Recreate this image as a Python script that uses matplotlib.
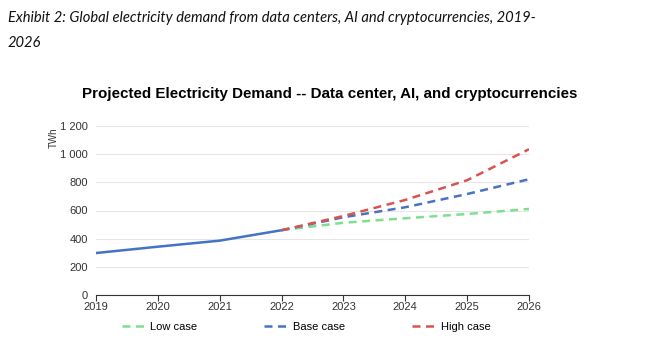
import numpy as np
import matplotlib.pyplot as plt
from matplotlib.ticker import FuncFormatter

years_hist = [2019, 2020, 2021, 2022]
hist = [298, 343, 386, 460]
years_proj = [2022, 2023, 2024, 2025, 2026]
low_case = [460, 513, 545, 575, 611]
base_case = [460, 552, 623, 717, 822]
high_case = [460, 561, 675, 815, 1035]

fig = plt.figure(figsize=(6.67, 3.48), dpi=100)
fig.text(0.012, 0.967, "Exhibit 2: Global electricity demand from data centers, AI and cryptocurrencies, 2019-",
         family="Lato", style="italic", fontsize=10.6, va="top", color="#111111")
fig.text(0.012, 0.897, "2026", family="Lato", style="italic", fontsize=10.6, va="top", color="#111111")
fig.text(0.495, 0.73, "Projected Electricity Demand -- Data center, AI, and cryptocurrencies",
         family="Liberation Sans", weight="bold", fontsize=10.9, ha="center", va="center")

ax = fig.add_axes([96/667, 1-295/348, 433/667, 169/348])
dash = (3.2, 2.2)
ax.plot(years_hist, hist, color="#4472c4", lw=1.8, solid_capstyle="round")
ax.plot(years_proj, low_case, color="#7ee08e", lw=1.8, dashes=dash, label="Low case")
ax.plot(years_proj, base_case, color="#4a72c0", lw=1.8, dashes=dash, label="Base case")
ax.plot(years_proj, high_case, color="#d9534f", lw=1.8, dashes=dash, label="High case")

ax.set_xlim(2019, 2026)
ax.set_ylim(0, 1200)
ax.set_yticks(range(0, 1201, 200))
ax.yaxis.set_major_formatter(FuncFormatter(lambda v, p: f"{int(v):,}".replace(",", " ")))
ax.grid(axis="y", color="#e6e6e6", lw=0.8)
ax.set_axisbelow(True)
for s in ["left", "right", "top"]:
    ax.spines[s].set_visible(False)
ax.spines["bottom"].set_color("#333333")
ax.tick_params(axis="y", length=0, labelsize=8, pad=6, labelcolor="#333333")
ax.tick_params(axis="x", length=4, labelsize=8, color="#333333", labelcolor="#333333", pad=1)
for t in ax.get_xticklabels() + ax.get_yticklabels():
    t.set_family("Liberation Sans")
ax.set_ylabel("TWh", fontsize=7, family="Liberation Sans", color="#333333")
ax.yaxis.set_label_coords(-0.085, 0.93)

leg = ax.legend(loc="upper center", bbox_to_anchor=(0.485, -0.1), ncol=3, frameon=False,
                prop={"family": "Liberation Sans", "size": 8}, handlelength=2.0,
                handletextpad=0.6, columnspacing=6.0)
fig.savefig("out.png", dpi=100)
